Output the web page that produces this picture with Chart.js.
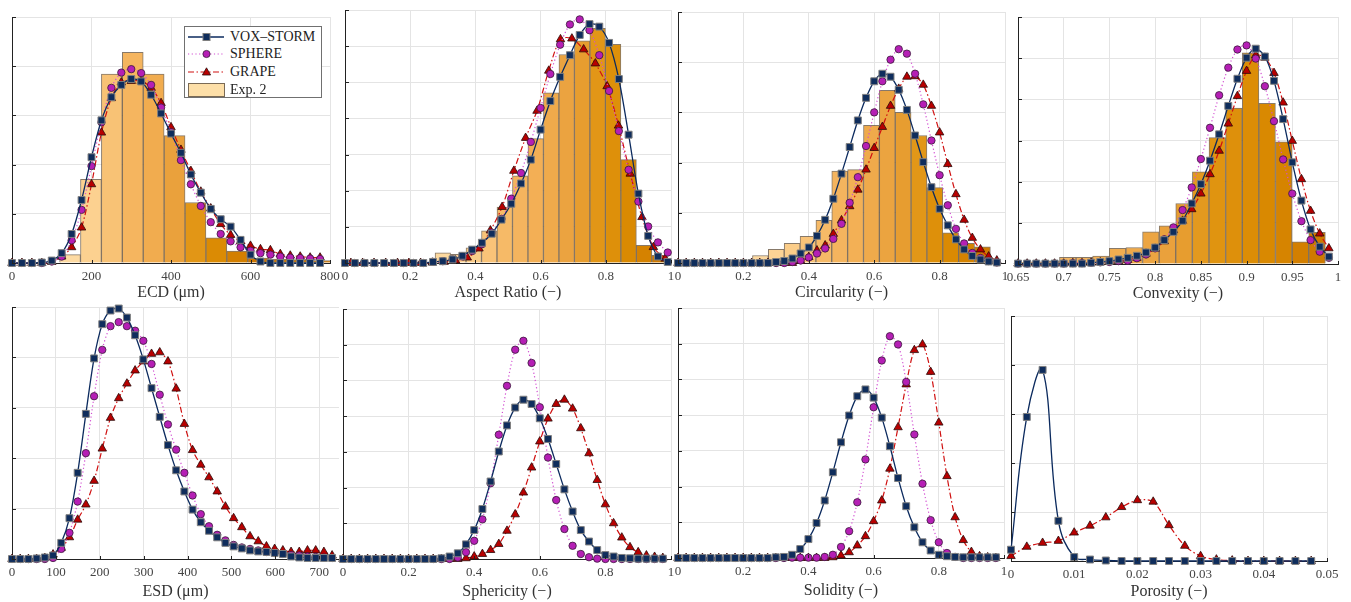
<!DOCTYPE html>
<html><head><meta charset="utf-8">
<script src="https://cdn.jsdelivr.net/npm/chart.js@4.4.1/dist/chart.umd.min.js"></script>
<style>
html,body{margin:0;padding:0;background:#fff;width:1351px;height:602px;overflow:hidden;font-family:'Liberation Serif',serif;}
.pc{position:absolute;}
#legend{position:absolute;left:184px;top:26px;width:138px;height:72px;background:#fff;border:1px solid #707070;z-index:10;box-sizing:border-box;}
.li{position:absolute;left:0;height:18px;width:100%;}
.li svg{position:absolute;left:2px;top:0;}
.li span{position:absolute;left:45px;top:0;line-height:18px;font-size:14px;color:#222;white-space:nowrap;}
</style></head><body>
<div id="legend">
  <div class="li" style="top:1px"><svg width="40" height="18"><line x1="1" y1="9" x2="37" y2="9" stroke="#0b2a5e" stroke-width="1.5"/><rect x="16" y="5.5" width="7" height="7" fill="#0f2d5c" stroke="#7f7f7f" stroke-width="1"/></svg><span>VOX–STORM</span></div>
  <div class="li" style="top:18px"><svg width="40" height="18"><line x1="1" y1="9" x2="37" y2="9" stroke="#d24fd2" stroke-width="1.2" stroke-dasharray="1.2,2.5"/><circle cx="19.5" cy="9" r="3.6" fill="#b51fb5" stroke="#3a1a3a" stroke-width="0.8"/></svg><span>SPHERE</span></div>
  <div class="li" style="top:36px"><svg width="40" height="18"><line x1="1" y1="9" x2="37" y2="9" stroke="#d01010" stroke-width="1.2" stroke-dasharray="6,2.5,1.5,2.5"/><polygon points="19.5,4.8 23.6,12 15.4,12" fill="#b80000" stroke="#2a0a0a" stroke-width="0.8"/></svg><span>GRAPE</span></div>
  <div class="li" style="top:54px"><svg width="40" height="18"><rect x="1.5" y="2.5" width="36" height="13" fill="#fddfa8" stroke="#7a6a55" stroke-width="1"/></svg><span>Exp. 2</span></div>
</div>
<script>
// ---------- DATA ----------
// ECD
const ecdX = [0,25,50,75,100,125,150,175,200,225,250,275,300,325,350,375,400,425,450,475,500,525,550,575,600,625,650,675,700,725,750,775];
const ecdVox = [0,0,0,0.01,0.05,0.20,0.59,1.28,2.15,2.90,3.37,3.62,3.74,3.69,3.42,3.04,2.63,2.24,1.80,1.43,1.10,0.89,0.74,0.47,0.17,0.03,0,0,0,0,0,0];
const ecdSphere = [0,0,0,0,0.03,0.13,0.46,1.08,1.97,2.86,3.56,3.87,3.94,3.86,3.62,3.16,2.66,2.09,1.60,1.16,0.83,0.59,0.44,0.32,0.25,0.20,0.17,0.13,0.11,0.10,0.09,0.08];
const ecdGrape = [0,0,0,0,0.02,0.13,0.32,0.72,1.60,2.65,3.35,3.67,3.70,3.70,3.56,3.25,2.76,2.30,1.87,1.45,1.11,0.79,0.57,0.44,0.35,0.28,0.26,0.18,0.15,0.13,0.11,0.11];
const ecdBinX = [146,198.6,251.2,303.8,356.4,409,461.6,514.2,566.8,619.4,672,724.6,777.2];
const ecdBins = [0.17,1.70,3.84,4.28,3.84,2.59,1.23,0.51,0.24,0.10,0.08,0.07,0.05];
// Aspect ratio
const arX = [0,0.03,0.06,0.09,0.12,0.15,0.18,0.21,0.24,0.27,0.30,0.33,0.36,0.39,0.42,0.45,0.48,0.51,0.54,0.57,0.60,0.63,0.66,0.69,0.72,0.75,0.78,0.81,0.84,0.87,0.90,0.93,0.96,0.99];
const arVox = [0,0,0,0,0,0,0,0,0,0.03,0.05,0.10,0.20,0.37,0.56,0.81,1.20,1.64,2.20,2.86,3.69,4.48,5.15,5.75,6.31,6.61,6.54,6.09,5.09,3.55,1.92,0.75,0.18,0.03];
const arSphere = [0,0,0,0,0,0,0,0,0,0.03,0.05,0.10,0.18,0.33,0.52,0.84,1.22,1.78,2.49,3.35,4.29,5.23,6.04,6.60,6.74,6.44,5.75,4.76,3.65,2.58,1.70,1.01,0.57,0.29];
const arGrapeX = [0.018,0.054,0.089,0.125,0.161,0.196,0.232,0.268,0.304,0.339,0.375,0.411,0.446,0.482,0.518,0.554,0.589,0.625,0.661,0.696,0.732,0.768,0.804,0.839,0.875,0.911,0.946,0.982];
const arGrape = [0,0,0,0,0,0,0,0.01,0.03,0.07,0.15,0.40,0.90,1.55,2.55,3.46,4.21,5.32,6.19,6.21,5.91,5.52,4.89,3.80,2.47,1.27,0.44,0.12];
const arBinX = [0.300,0.3475,0.395,0.4425,0.490,0.5375,0.585,0.6325,0.680,0.7275,0.775,0.8225,0.870,0.9175,0.965];
const arBins = [0.28,0.24,0.42,0.89,1.55,2.41,3.44,4.71,5.77,6.15,6.49,6.05,2.86,0.49,0.21];
// shared 0..0.975 grid (circularity, sphericity, solidity)
const gridX40 = [0,0.025,0.05,0.075,0.1,0.125,0.15,0.175,0.2,0.225,0.25,0.275,0.3,0.325,0.35,0.375,0.4,0.425,0.45,0.475,0.5,0.525,0.55,0.575,0.6,0.625,0.65,0.675,0.7,0.725,0.75,0.775,0.8,0.825,0.85,0.875,0.9,0.925,0.95,0.975];
// Circularity
const cVox = [0,0,0,0,0,0,0,0,0,0,0,0,0.02,0.04,0.09,0.19,0.31,0.54,0.86,1.28,1.78,2.31,2.84,3.29,3.62,3.77,3.71,3.45,3.05,2.54,2.01,1.51,1.08,0.75,0.47,0.27,0.14,0.07,0.03,0.01];
const cSphere = [0,0,0,0,0,0,0,0,0,0,0,0,0,0,0.02,0.05,0.11,0.19,0.29,0.48,0.78,1.20,1.71,2.33,3.00,3.62,4.05,4.26,4.17,3.77,3.16,2.44,1.75,1.15,0.68,0.39,0.20,0.10,0.04,0.01];
const cGrape = [0,0,0,0,0,0,0,0,0,0,0,0,0,0,0,0.04,0.12,0.25,0.35,0.58,0.85,1.13,1.46,1.86,2.29,2.71,3.13,3.47,3.71,3.72,3.55,3.13,2.60,1.97,1.37,0.86,0.50,0.27,0.13,0.05];
const cBinX = [0.252,0.3005,0.349,0.3975,0.446,0.4945,0.543,0.5915,0.640,0.6885,0.737,0.7855,0.834,0.8825,0.931];
const cBins = [0.15,0.27,0.39,0.53,0.85,1.83,1.86,2.74,3.44,3.00,2.54,1.50,0.60,0.39,0.32];
// Convexity
const vX = [0.65,0.66,0.67,0.68,0.69,0.70,0.71,0.72,0.73,0.74,0.75,0.76,0.77,0.78,0.79,0.80,0.81,0.82,0.83,0.84,0.85,0.86,0.87,0.88,0.89,0.90,0.91,0.92,0.93,0.94,0.95,0.96,0.97,0.98,0.99];
const vVox = [0.01,0.01,0.01,0.01,0.01,0.01,0.01,0.01,0.03,0.05,0.07,0.11,0.15,0.20,0.28,0.40,0.58,0.78,1.05,1.47,1.94,2.51,3.15,3.84,4.50,5.01,5.23,5.04,4.45,3.52,2.47,1.54,0.84,0.42,0.18];
const vSphere = [0.01,0.01,0.01,0.01,0.01,0.01,0.02,0.02,0.03,0.04,0.05,0.07,0.08,0.14,0.23,0.38,0.60,0.89,1.31,1.86,2.55,3.31,4.10,4.77,5.21,5.31,4.99,4.32,3.47,2.54,1.71,1.04,0.58,0.30,0.15];
const vGrape = [0.01,0.01,0.01,0.01,0.01,0.01,0.02,0.02,0.03,0.04,0.05,0.07,0.10,0.15,0.25,0.37,0.55,0.82,1.05,1.33,1.71,2.18,2.75,3.41,4.08,4.69,5.07,5.01,4.64,3.92,2.99,2.06,1.29,0.74,0.38];
const vBinX = [0.6498,0.668,0.6862,0.7044,0.7226,0.7407,0.7589,0.7771,0.7953,0.8135,0.8316,0.8498,0.868,0.8862,0.9044,0.9225,0.9407,0.9589,0.9771];
const vBins = [0.04,0.05,0.07,0.16,0.16,0.19,0.38,0.40,0.78,0.93,1.47,2.24,3.07,3.79,5.13,3.90,2.97,0.54,0.77];
// ESD
const eX = [0,18.7,37.4,56.1,74.8,93.5,112.2,130.9,149.6,168.3,187,205.7,224.4,243.1,261.8,280.5,299.2,317.9,336.6,355.3,374,392.7,411.4,430.1,448.8,467.5,486.2,504.9,523.6,542.3,561,579.7,598.4,617.1,635.8,654.5,673.2,691.9,710.6,729.3];
const eVox = [0,0,0,0.01,0.03,0.07,0.32,0.81,1.71,2.88,3.98,4.66,4.93,4.97,4.79,4.44,3.96,3.39,2.82,2.26,1.76,1.34,0.98,0.73,0.56,0.43,0.32,0.25,0.21,0.17,0.15,0.14,0.12,0.10,0.05,0.03,0.02,0.02,0.02,0.02];
const eSphere = [0,0,0,0,0,0.02,0.20,0.52,1.14,2.10,3.23,4.15,4.62,4.70,4.62,4.53,4.33,3.87,3.26,2.67,2.17,1.71,1.26,0.89,0.65,0.48,0.37,0.28,0.23,0.20,0.17,0.14,0.12,0.10,0.08,0.07,0.05,0.04,0.03,0.02];
const eGrape = [0,0,0,0,0.02,0.09,0.22,0.43,0.78,1.08,1.55,2.19,2.80,3.19,3.48,3.74,3.92,4.07,4.10,3.92,3.38,2.68,2.16,1.87,1.62,1.34,1.04,0.81,0.63,0.45,0.35,0.25,0.20,0.17,0.14,0.14,0.17,0.17,0.14,0.07];
// Sphericity
const sVox = [0,0,0,0,0,0,0,0,0,0,0,0,0.02,0.07,0.16,0.41,0.81,1.40,2.17,3.01,3.74,4.24,4.46,4.34,3.94,3.36,2.66,1.95,1.33,0.81,0.49,0.25,0.11,0.07,0.03,0.02,0.01,0.01,0.01,0.01];
const sSphere = [0,0,0,0,0,0,0,0,0,0,0,0,0,0,0.04,0.19,0.51,1.11,2.12,3.48,4.85,5.86,6.11,5.49,4.25,2.84,1.65,0.84,0.37,0.14,0.05,0.01,0,0,0,0,0,0,0,0];
const sGrape = [0,0,0,0,0,0,0,0,0,0,0,0,0,0,0,0.02,0.07,0.14,0.25,0.42,0.79,1.25,1.86,2.56,3.29,3.93,4.34,4.46,4.21,3.66,2.96,2.21,1.53,1.00,0.60,0.33,0.19,0.10,0.06,0.03];
// Solidity
const oVox = [0,0,0,0,0,0,0,0,0,0,0,0,0.02,0.03,0.09,0.25,0.53,0.98,1.61,2.40,3.24,3.99,4.53,4.72,4.49,3.93,3.13,2.24,1.45,0.86,0.44,0.21,0.09,0.05,0.03,0.02,0.02,0.02,0.02,0.02];
const oSphere = [0,0,0,0,0,0,0,0,0,0,0,0,0,0,0.01,0.01,0.01,0.01,0.03,0.09,0.31,0.75,1.56,2.76,4.22,5.53,6.21,5.98,4.93,3.46,2.08,1.06,0.44,0.14,0.03,0,0,0,0,0];
const oGrape = [0,0,0,0,0,0,0,0,0,0,0,0,0,0,0,0,0,0,0,0.02,0.07,0.16,0.35,0.61,1.03,1.61,2.50,3.66,4.86,5.82,5.98,5.21,3.79,2.29,1.14,0.50,0.17,0.05,0.02,0];
// Porosity
const pX = [0,0.0025,0.005,0.0075,0.01,0.0125,0.015,0.0175,0.02,0.0225,0.025,0.0275,0.03,0.0325,0.035,0.0375,0.04,0.0425,0.045,0.0475];
const pVox = [0.23,2.94,3.90,0.82,0.08,0.03,0.01,0,0,0,0,0,0,0,0,0,0,0,0,0];
const pGrape = [0.10,0.29,0.37,0.41,0.58,0.72,0.89,1.10,1.24,1.21,0.73,0.31,0.10,0.03,0.01,0,0,0,0,0];
// axis titles
const axisTitles = ['ECD (μm)','Aspect Ratio (−)','Circularity (−)','Convexity (−)','ESD (μm)','Sphericity (−)','Solidity (−)','Porosity (−)'];

// ---------- STYLE / LAYOUT ----------
Chart.defaults.font.family = "'Liberation Serif','Times New Roman',serif";
const stops = [[0,[253,219,164]],[0.15,[252,207,140]],[0.3,[246,185,102]],[0.45,[242,174,82]],[0.6,[233,160,58]],[0.72,[224,148,15]],[0.85,[217,136,0]],[1,[205,118,0]]];
function barColor(t){
  t = Math.max(0, Math.min(1, t));
  for (let i = 1; i < stops.length; i++) {
    if (t <= stops[i][0]) {
      const a = stops[i-1], b = stops[i], f = (t - a[0]) / (b[0] - a[0]);
      const c = a[1].map((v,k) => Math.round(v + (b[1][k] - v) * f));
      return 'rgb(' + c.join(',') + ')';
    }
  }
  return 'rgb(205,118,0)';
}
const pts = (xs, ys) => xs.map((x, i) => ({x: x, y: ys[i]}));

const innerTicks = {
  id: 'innerTicks',
  afterDraw(chart) {
    const {ctx, chartArea: a, scales: {x, y}} = chart;
    ctx.save(); ctx.strokeStyle = '#222'; ctx.lineWidth = 1;
    y.ticks.forEach(t => { const py = Math.round(y.getPixelForValue(t.value)) + 0.5;
      ctx.beginPath(); ctx.moveTo(a.left, py); ctx.lineTo(a.left + 4, py); ctx.stroke(); });
    x.ticks.forEach(t => { const px = Math.round(x.getPixelForValue(t.value)) + 0.5;
      ctx.beginPath(); ctx.moveTo(px, a.bottom); ctx.lineTo(px, a.bottom - 3); ctx.stroke(); });
    ctx.restore();
  }
};

function lineDs(kind, xs, ys, tension) {
  const base = {type: 'line', data: pts(xs, ys), clip: false, tension: tension, fill: false};
  if (kind === 'vox') return Object.assign(base, {label: 'VOX–STORM', borderColor: '#0b2a5e', borderWidth: 1.3,
    pointStyle: 'rect', pointRadius: 4.9, pointBackgroundColor: '#0f2d5c', pointBorderColor: '#808080', pointBorderWidth: 1, order: 0});
  if (kind === 'sphere') return Object.assign(base, {label: 'SPHERE', borderColor: '#d24fd2', borderWidth: 1.2, borderDash: [1.2, 2.5],
    pointStyle: 'circle', pointRadius: 3.7, pointBackgroundColor: '#b51fb5', pointBorderColor: '#3a1a3a', pointBorderWidth: 0.8, order: 1});
  return Object.assign(base, {label: 'GRAPE', borderColor: '#d01010', borderWidth: 1.2, borderDash: [6, 2.5, 1.5, 2.5],
    pointStyle: 'triangle', pointRadius: 4.9, pointBackgroundColor: '#b80000', pointBorderColor: '#2a0a0a', pointBorderWidth: 0.8, order: 2});
}
function barDs(bx, by, c0, c1) {
  return {type: 'bar', label: 'Exp. 2', data: pts(bx, by), backgroundColor: bx.map(x => barColor((x - c0) / (c1 - c0))),
    borderColor: 'rgba(105,88,68,0.8)', borderWidth: 1, barPercentage: 1, categoryPercentage: 1, grouped: false, order: 5};
}

const panels = [
  {L:12, R:330, T:17, B:263, XH:40, xmin:0, xmax:800, step:200, ny:5, title:axisTitles[0],
   ds:[lineDs('vox',ecdX,ecdVox,0.3), lineDs('sphere',ecdX,ecdSphere,0.3), lineDs('grape',ecdX,ecdGrape,0.3), barDs(ecdBinX,ecdBins,140,600)]},
  {L:345, R:671, T:10, B:263, XH:40, xmin:0, xmax:1, step:0.2, ny:7, title:axisTitles[1],
   ds:[lineDs('vox',arX,arVox,0.3), lineDs('sphere',arX,arSphere,0.3), lineDs('grape',arGrapeX,arGrape,0.3), barDs(arBinX,arBins,0.28,0.99)]},
  {L:678, R:1005, T:12, B:263, XH:40, xmin:0, xmax:1, step:0.2, ny:5, title:axisTitles[2],
   ds:[lineDs('vox',gridX40,cVox,0.3), lineDs('sphere',gridX40,cSphere,0.3), lineDs('grape',gridX40,cGrape,0.3), barDs(cBinX,cBins,0.23,0.96)]},
  {L:1018, R:1338, T:17, B:264, XH:40, xmin:0.65, xmax:1, step:0.05, ny:6, title:axisTitles[3],
   ds:[lineDs('vox',vX,vVox,0.3), lineDs('sphere',vX,vSphere,0.3), lineDs('grape',vX,vGrape,0.3), barDs(vBinX,vBins,0.56,0.99)]},
  {L:12, R:339, T:307, B:559, XH:43, xmin:0, xmax:745, step:100, ny:5, title:axisTitles[4],
   ds:[lineDs('vox',eX,eVox,0.3), lineDs('sphere',eX,eSphere,0.3), lineDs('grape',eX,eGrape,0.3)]},
  {L:343, R:671, T:309, B:559, XH:43, xmin:0, xmax:1, step:0.2, ny:7, title:axisTitles[5],
   ds:[lineDs('vox',gridX40,sVox,0.3), lineDs('sphere',gridX40,sSphere,0.3), lineDs('grape',gridX40,sGrape,0.3)]},
  {L:678, R:1004, T:308, B:558, XH:43, xmin:0, xmax:1, step:0.2, ny:7, title:axisTitles[6],
   ds:[lineDs('vox',gridX40,oVox,0.3), lineDs('sphere',gridX40,oSphere,0.3), lineDs('grape',gridX40,oGrape,0.3)]},
  {L:1011, R:1327, T:316, B:561, XH:41, xmin:0, xmax:0.05, step:0.01, ny:5, title:axisTitles[7],
   ds:[lineDs('vox',pX,pVox,0.4), lineDs('grape',pX,pGrape,0.3)]}
];

panels.forEach(p => {
  const W = (p.R - p.L) + 40, H = (p.B - p.T) + 8 + p.XH;
  const div = document.createElement('div'); div.className = 'pc';
  div.style.left = (p.L - 20) + 'px'; div.style.top = (p.T - 8) + 'px';
  div.style.width = W + 'px'; div.style.height = H + 'px';
  const cv = document.createElement('canvas'); cv.width = W; cv.height = H;
  cv.style.width = W + 'px'; cv.style.height = H + 'px';
  div.appendChild(cv); document.body.appendChild(div);
  new Chart(cv, {
    type: 'line',
    data: {datasets: p.ds},
    options: {
      responsive: false, animation: false, devicePixelRatio: 1,
      layout: {padding: {left: 20, right: 20, top: 8, bottom: 0}},
      plugins: {legend: {display: false}, tooltip: {enabled: false}},
      scales: {
        x: {type: 'linear', min: p.xmin, max: p.xmax, offset: false,
            ticks: {stepSize: p.step, autoSkip: false, maxRotation: 0, includeBounds: false, padding: 6,
                    color: '#444', font: {size: 13}, callback: v => String(+(+v).toFixed(4))},
            grid: {color: '#e4e4e4', drawTicks: false, offset: false},
            border: {display: true, color: '#222', width: 1},
            title: {display: true, text: p.title, color: '#333', font: {size: 16}, padding: {top: 0, bottom: 0.5}},
            afterFit: s => { s.height = p.XH; }},
        y: {type: 'linear', min: 0, max: p.ny,
            ticks: {display: false, stepSize: 1},
            grid: {color: '#e4e4e4', drawTicks: false},
            border: {display: true, color: '#222', width: 1},
            afterFit: s => { s.width = 0; }}
      }
    },
    plugins: [innerTicks]
  });
});
</script>
</body></html>
